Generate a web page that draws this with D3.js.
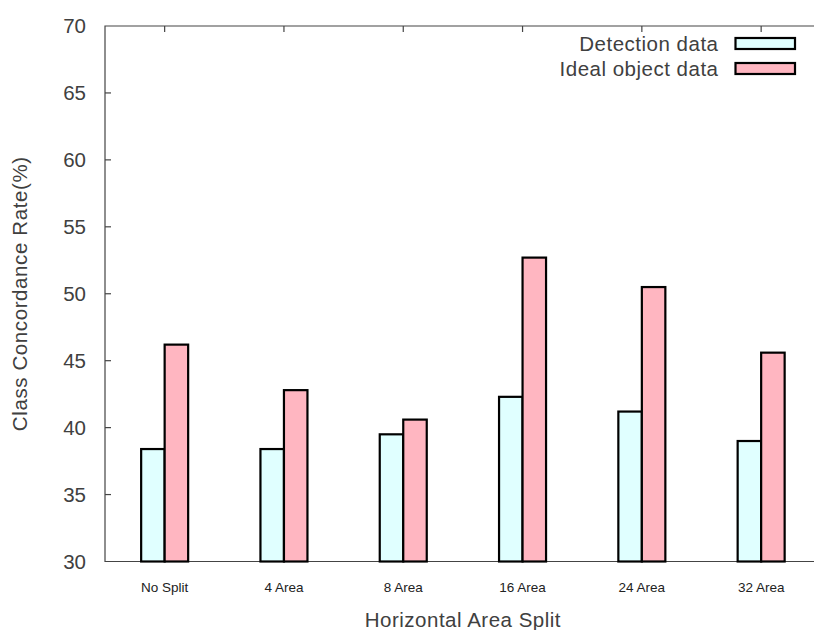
<!DOCTYPE html>
<html>
<head>
<meta charset="utf-8">
<script src="https://cdn.jsdelivr.net/npm/d3@7"></script>
<style>
  body { margin: 0; background: #fff; }
  svg { display: block; font-family: "Liberation Sans", Arial, sans-serif; }
</style>
</head>
<body>
<svg class="chart" width="814" height="630"></svg>
<script>
const categories = ["No Split", "4 Area", "8 Area", "16 Area", "24 Area", "32 Area"];
const detection = [38.4, 38.4, 39.5, 42.3, 41.2, 39.0];
const ideal = [46.2, 42.8, 40.6, 52.7, 50.5, 45.6];
const yTicks = [30, 35, 40, 45, 50, 55, 60, 65, 70];
const seriesNames = ["Detection data", "Ideal object data"];
const colors = ["#e0ffff", "#ffb6c1"];

const margin = { top: 26, left: 105, bottom: 561.5 };
const bandW = 119.3;

const x = d3.scaleLinear()
    .domain([-0.5, 5.5])
    .range([margin.left, margin.left + 6 * bandW]);

const y = d3.scaleLinear()
    .domain([30, 70])
    .range([margin.bottom, margin.top]);

const svg = d3.select(".chart");
const textColor = "#404040";
const axisColor = "#444";

// frame
svg.append("path")
    .attr("d", `M${x(5.5)},${y(70)}H${x(-0.5)}V${y(30)}H${x(5.5)}`)
    .attr("fill", "none")
    .attr("stroke", axisColor)
    .attr("stroke-width", 1.2);

// y ticks
const yAxis = svg.append("g");
yTicks.forEach(t => {
    if (t !== 30 && t !== 70) {
        yAxis.append("line")
            .attr("x1", x(-0.5)).attr("x2", x(-0.5) + 6)
            .attr("y1", y(t)).attr("y2", y(t))
            .attr("stroke", axisColor).attr("stroke-width", 1.2);
    }
    yAxis.append("text")
        .attr("x", 86)
        .attr("y", y(t))
        .attr("dy", "0.35em")
        .attr("text-anchor", "end")
        .attr("font-size", 20.5)
        .attr("fill", textColor)
        .text(t);
});

// x ticks on top, labels below
categories.forEach((c, i) => {
    svg.append("line")
        .attr("x1", x(i)).attr("x2", x(i))
        .attr("y1", y(70)).attr("y2", y(70) + 6)
        .attr("stroke", axisColor).attr("stroke-width", 1.2);
    svg.append("text")
        .attr("x", x(i))
        .attr("y", 592)
        .attr("text-anchor", "middle")
        .attr("font-size", 13.5)
        .attr("fill", "#222")
        .text(c);
});

// bars
const barW = 23.5;
const bars = svg.append("g");
[detection, ideal].forEach((vals, s) => {
    bars.selectAll(null)
        .data(vals)
        .join("rect")
        .attr("x", (d, i) => x(i) - barW + s * barW)
        .attr("y", d => y(d))
        .attr("width", barW)
        .attr("height", d => y(30) - y(d))
        .attr("fill", colors[s])
        .attr("stroke", "#000")
        .attr("stroke-width", 2.2);
});

// legend
seriesNames.forEach((name, i) => {
    const ly = 43.5 + i * 25;
    svg.append("text")
        .attr("x", 718.5)
        .attr("y", ly)
        .attr("dy", "0.35em")
        .attr("text-anchor", "end")
        .attr("font-size", 20.5)
        .attr("letter-spacing", 0.5)
        .attr("fill", textColor)
        .text(name);
    svg.append("rect")
        .attr("x", 735.5)
        .attr("y", ly - 5.5)
        .attr("width", 59.5)
        .attr("height", 11)
        .attr("fill", colors[i])
        .attr("stroke", "#000")
        .attr("stroke-width", 2.2);
});

// axis titles
svg.append("text")
    .attr("x", (x(-0.5) + x(5.5)) / 2)
    .attr("y", 627)
    .attr("text-anchor", "middle")
    .attr("font-size", 20.5)
    .attr("letter-spacing", 0.5)
    .attr("fill", textColor)
    .text("Horizontal Area Split");

svg.append("text")
    .attr("transform", `translate(27,${y(50)}) rotate(-90)`)
    .attr("text-anchor", "middle")
    .attr("font-size", 20.5)
    .attr("letter-spacing", 0.6)
    .attr("fill", textColor)
    .text("Class Concordance Rate(%)");
</script>
</body>
</html>
